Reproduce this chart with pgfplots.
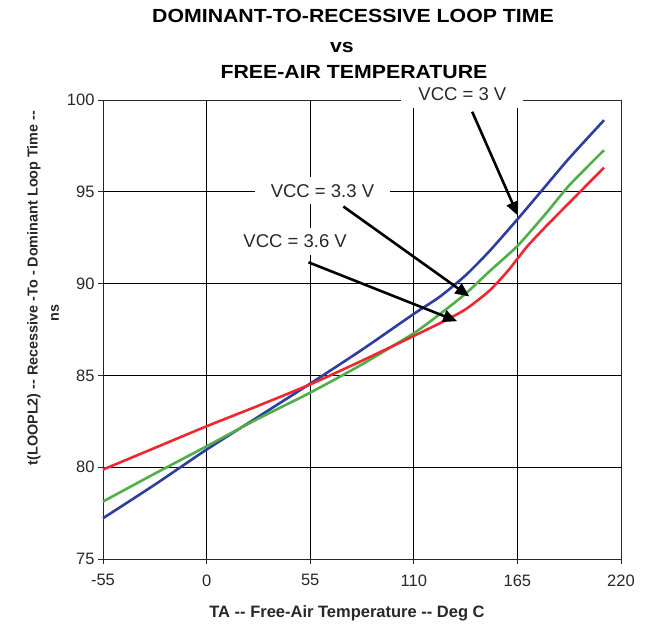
\documentclass[border=0pt]{standalone}
\usepackage{pgfplots}
\pgfplotsset{compat=1.18}
\usepackage{fontspec}
\setmainfont{Liberation Sans}
\newfontfamily\arial{Liberation Sans}
\usetikzlibrary{arrows.meta}
\definecolor{cblue}{RGB}{46,62,160}
\definecolor{cgreen}{RGB}{80,175,72}
\definecolor{cred}{RGB}{238,40,48}
\definecolor{ctxt}{RGB}{40,40,40}
\begin{document}
\begin{tikzpicture}[x=1pt,y=1pt]
\path[use as bounding box] (0,0) rectangle (646,-628);
\begin{axis}[
  at={(103pt,-559pt)}, anchor=south west,
  width=518pt, height=459pt, scale only axis,
  xmin=-55, xmax=220, ymin=75, ymax=100,
  xtick={-55,0,55,110,165,220},
  xticklabels={-55,0,55,110,165,220},
  ytick={75,80,85,90,95,100},
  yticklabels={75,80,85,90,95,100},
  grid=major,
  grid style={black, line width=0.9pt},
  axis line style={black!85, line width=0.9pt},
  tick style={black!85, line width=0.9pt},
  tick align=outside, tick pos=left,
  major tick length=5pt,
  xticklabel style={font=\arial\fontsize{16.5}{18}\selectfont, text=ctxt, yshift=-7pt},
  yticklabel style={font=\arial\fontsize{16.5}{18}\selectfont, text=ctxt},
  clip=false,
]
\addplot[cblue, line width=2.6pt, smooth, tension=0.4] coordinates {
(-55,77.22) (-27.5,79.05) (0,80.96) (27.5,82.75) (55,84.55) (82.5,86.4) (110,88.35) (124,89.3) (137.5,90.45) (150,91.75) (165,93.5) (177,94.95) (192.5,96.83) (211,98.9)};
\addplot[cgreen, line width=2.6pt, smooth, tension=0.4] coordinates {
(-55,78.13) (-27.5,79.65) (0,81.14) (27.5,82.65) (55,84.06) (82.5,85.6) (110,87.3) (124,88.35) (137.5,89.45) (150,90.65) (165,92.05) (180,93.8) (192.5,95.35) (211,97.27)};
\addplot[cred, line width=2.6pt, smooth, tension=0.4] coordinates {
(-55,79.87) (-27.5,81.05) (0,82.23) (27.5,83.35) (55,84.51) (82.5,85.8) (110,87.15) (125,87.9) (137.5,88.6) (150,89.6) (160,90.7) (170,92.0) (180,93.1) (192.5,94.4) (211,96.32)};
% annotations
\node[fill=white, inner xsep=17pt, inner ysep=7pt, text=ctxt, font=\arial\fontsize{18.5}{20}\selectfont] at (axis cs:135.8,100.3) {VCC = 3 V};
\node[fill=white, inner xsep=16pt, inner ysep=7pt, text=ctxt, font=\arial\fontsize{18.5}{20}\selectfont] at (axis cs:61.5,95.05) {VCC = 3.3 V};
\node[fill=white, inner xsep=4pt, inner ysep=7pt, text=ctxt, font=\arial\fontsize{18.5}{20}\selectfont] at (axis cs:47,92.3) {VCC = 3.6 V};
\draw[black, line width=2.6pt, -{Triangle[length=14pt,width=12pt]}] (axis cs:141,99.36) -- (axis cs:165.3,93.7);
\draw[black, line width=2.6pt, -{Triangle[length=14pt,width=12pt]}] (axis cs:72.6,94.2) -- (axis cs:139.5,89.3);
\draw[black, line width=2.6pt, -{Triangle[length=14pt,width=12pt]}] (axis cs:54.1,91.16) -- (axis cs:133,87.95);
\end{axis}
% titles
\node[anchor=base, font=\arial\bfseries\fontsize{19}{21}\selectfont] at (353,-23) {\scalebox{1.12}[1]{DOMINANT-TO-RECESSIVE LOOP TIME}};
\node[anchor=base, font=\arial\bfseries\fontsize{19}{21}\selectfont] at (342,-53) {\scalebox{1.12}[1]{vs}};
\node[anchor=base, font=\arial\bfseries\fontsize{19}{21}\selectfont] at (354,-79) {\scalebox{1.12}[1]{FREE-AIR TEMPERATURE}};
% axis labels
\node[font=\arial\bfseries\fontsize{16.5}{18}\selectfont, text=ctxt] at (347,-613) {TA -- Free-Air Temperature -- Deg C};
\node[rotate=90, font=\arial\bfseries\fontsize{14.4}{16}\selectfont, text=ctxt] at (34,-288) {t(LOOPL2) -- Recessive -To - Dominant Loop Time --};
\node[rotate=90, font=\arial\bfseries\fontsize{14.4}{16}\selectfont, text=ctxt] at (55,-313) {ns};
\end{tikzpicture}
\end{document}
